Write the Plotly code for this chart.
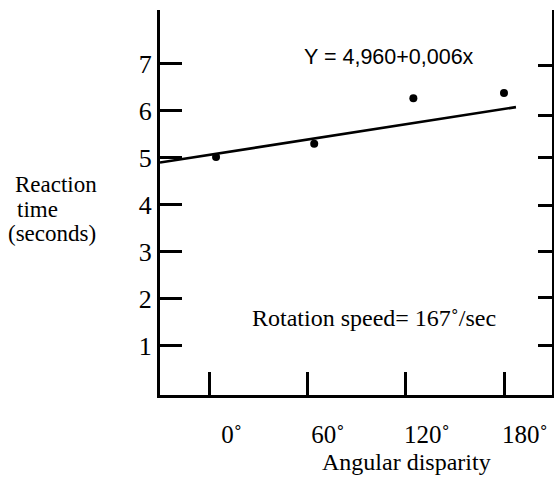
import plotly.graph_objects as go

# ---- data ----
angles = [4.1, 64.0, 124.5, 179.8]          # angular disparity (deg) of the dots
reaction = [5.01, 5.29, 6.26, 6.37]          # reaction time (s)
fit_x = [-30.1, 187.1]                       # regression line end points (deg)
fit_y = [4.89, 6.07]                         # regression line end points (s)
x_tick_vals = [0, 60, 120, 180]
x_label_pos = [13.7, 72.4, 132.7, 192.6]
x_label_text = ["0˚", "60˚", "120˚", "180˚"]
y_tick_vals = [1, 2, 3, 4, 5, 6, 7]
y_tick_text = ["1", "2", "3", "4", "5", "6", "7"]
right_tick_vals = [1, 2.03, 3.00, 3.97, 5.0, 5.89, 6.95]
equation = "Y = 4,960+0,006x"
speed_text = "Rotation speed= 167˚/sec"
x_title = "Angular disparity"
y_title_lines = ["Reaction", "time", "(seconds)"]

X_RANGE = [-30.1, 209.1]
Y_RANGE = [-0.055, 8.136]

SERIF = "Liberation Serif"
SANS = "Liberation Sans"

fig = go.Figure()
fig.add_trace(go.Scatter(x=fit_x, y=fit_y, mode="lines",
                         line=dict(color="black", width=2.6), hoverinfo="skip"))
fig.add_trace(go.Scatter(x=angles, y=reaction, mode="markers",
                         marker=dict(color="black", size=8)))
# invisible trace so that the overlay axes are drawn
fig.add_trace(go.Scatter(x=[None], y=[None], xaxis="x2", yaxis="y2",
                         mode="markers", showlegend=False))

fig.update_layout(
    width=554, height=481,
    margin=dict(l=160, r=2, t=10, b=86),
    paper_bgcolor="white", plot_bgcolor="white",
    showlegend=False,
    xaxis=dict(range=X_RANGE, tickvals=x_tick_vals, showticklabels=False,
               ticks="inside", ticklen=23, tickwidth=3, tickcolor="black",
               showline=True, linewidth=3, linecolor="black",
               showgrid=False, zeroline=False, automargin=False),
    xaxis2=dict(range=X_RANGE, overlaying="x", side="bottom", anchor="y",
                tickvals=x_label_pos, ticktext=x_label_text, ticks="",
                showline=False, showgrid=False, zeroline=False,
                ticklabelstandoff=22, automargin=False,
                tickfont=dict(family=SERIF, size=25, color="black")),
    yaxis=dict(range=Y_RANGE, tickvals=y_tick_vals, ticktext=y_tick_text,
               ticks="inside", ticklen=22, tickwidth=3, tickcolor="black",
               showline=True, linewidth=3, linecolor="black",
               showgrid=False, zeroline=False, automargin=False,
               tickfont=dict(family=SERIF, size=26, color="black")),
    yaxis2=dict(range=Y_RANGE, overlaying="y", side="right", anchor="x",
                tickvals=right_tick_vals, showticklabels=False,
                ticks="inside", ticklen=14, tickwidth=3, tickcolor="black",
                showline=True, linewidth=3, linecolor="black",
                showgrid=False, zeroline=False, automargin=False),
)

def px_x(p):
    return (p - 160) / 392.0

def px_y(p):
    return (481 - 86 - p) / 385.0

fig.add_annotation(text=equation, x=px_x(388.5), y=px_y(57), xref="paper", yref="paper",
                   showarrow=False, xanchor="center", yanchor="middle",
                   font=dict(family=SANS, size=21.5, color="black"))
fig.add_annotation(text=speed_text, x=px_x(374), y=px_y(318), xref="paper", yref="paper",
                   showarrow=False, xanchor="center", yanchor="middle",
                   font=dict(family=SERIF, size=24, color="black"))
fig.add_annotation(text=x_title, x=px_x(406.5), y=px_y(462), xref="paper", yref="paper",
                   showarrow=False, xanchor="center", yanchor="middle",
                   font=dict(family=SERIF, size=24, color="black"))
for line, lx, ly in zip(y_title_lines, [13, 15, 6], [184, 210, 233]):
    fig.add_annotation(text=line, x=px_x(lx), y=px_y(ly), xref="paper", yref="paper",
                       showarrow=False, xanchor="left", yanchor="middle",
                       font=dict(family=SERIF, size=23, color="black"))

fig.write_html("out.html",
               config={"displayModeBar": False},
               post_script="document.body.style.margin='0px';"
                           "document.body.style.overflow='hidden';")
